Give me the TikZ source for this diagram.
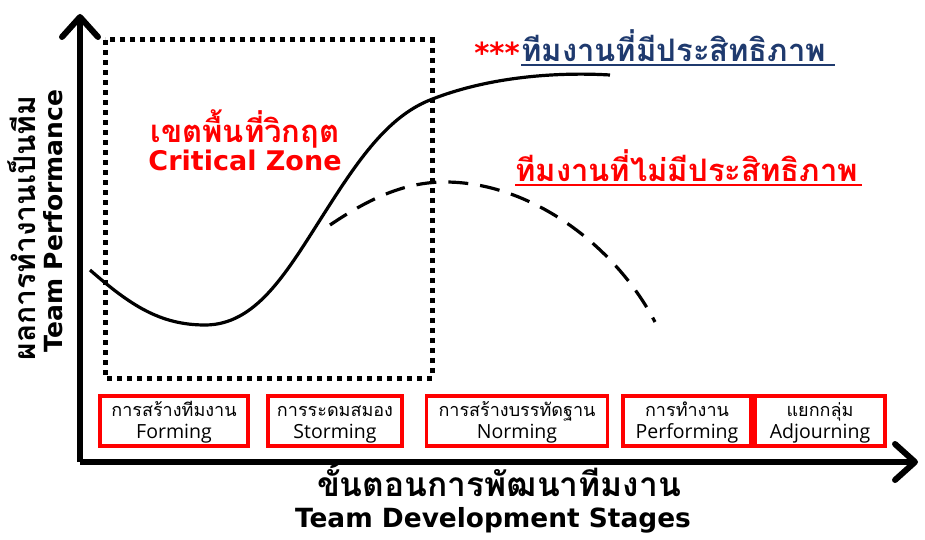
\documentclass[tikz,border=0pt]{standalone}
\usepackage{fontspec}
\setmainfont{Open Sans}
\newfontfamily\thai[Script=Thai]{Loma}
\newfontfamily\heavy{DejaVu Sans}
\usetikzlibrary{arrows.meta}
\definecolor{navy}{HTML}{1F3A6E}
\tikzset{
  stagebox/.style={draw=red, line width=3.2pt, fill=white, minimum height=50pt, inner sep=0pt},
  thaibox/.style={anchor=base, inner sep=0pt, font=\thai\fontsize{18}{20}\selectfont},
  latinbox/.style={anchor=base, inner sep=0pt, font=\fontsize{19.5}{21}\selectfont},
  axisline/.style={line width=6pt, -{Straight Barb[length=20pt,width=36pt,line width=6pt,round]}},
  curvesolid/.style={line width=3.2pt},
  curvedash/.style={line width=3.2pt, dash pattern=on 20pt off 12pt},
}
\begin{document}
\begin{tikzpicture}[x=1pt,y=-1pt]
\useasboundingbox (0,0) rectangle (925,540);
% dotted critical zone
\draw[line width=5pt, dash pattern=on 5pt off 5pt] (105,40) rectangle (432,378);
% axes
\coordinate (O) at (80,462);
\coordinate (ytop) at (80,14);
\coordinate (xend) at (918,462);
\draw[axisline] (O) -- (ytop);
\draw[axisline] (O) -- (xend);
% curves
\draw[curvesolid] (90,270) .. controls (130,305) and (160,325) .. (205,325)
  .. controls (255,325) and (285,275) .. (320,220)
  .. controls (355,165) and (385,118) .. (430,100)
  .. controls (490,76) and (560,72) .. (610,75);
\draw[curvedash] (330,225) .. controls (370,198) and (405,182) .. (445,182)
  .. controls (530,182) and (615,245) .. (655,322);
% stage boxes
\node[stagebox, minimum width=148pt] (forming) at (174,421) {};
\node[thaibox] (formingth) at (174,416) {การสร้างทีมงาน};
\node[latinbox] (formingen) at (174,438) {Forming};
\node[stagebox, minimum width=134pt] (storming) at (335,421) {};
\node[thaibox] (stormingth) at (335,416) {การระดมสมอง};
\node[latinbox] (stormingen) at (335,438) {Storming};
\node[stagebox, minimum width=181pt] (norming) at (517,421) {};
\node[thaibox] (normingth) at (517,416) {การสร้างบรรทัดฐาน};
\node[latinbox] (normingen) at (517,438) {Norming};
\node[stagebox, minimum width=128pt] (performing) at (687,421) {};
\node[thaibox] (performingth) at (687,416) {การทำงาน};
\node[latinbox] (performingen) at (687,438) {Performing};
\node[stagebox, minimum width=130pt] (adjourning) at (820,421) {};
\node[thaibox] (adjourningth) at (820,416) {แยกกลุ่ม};
\node[latinbox] (adjourningen) at (820,438) {Adjourning};
% critical zone text
\node[anchor=base, inner sep=0pt, text=red, font=\thai\fontsize{31}{33}\selectfont\bfseries] (zoneth) at (245,143) {เขตพื้นที่วิกฤต};
\node[anchor=base, inner sep=0pt, text=red, font=\heavy\fontsize{27}{29}\selectfont\bfseries] (zoneen) at (245,171) {Critical Zone};
% effective team
\node[anchor=base east, inner sep=0pt, text=red, font=\heavy\fontsize{29}{30}\selectfont\bfseries] (stars) at (520,64) {***};
\node[anchor=base west, inner sep=0pt, text=navy, font=\thai\fontsize{31}{33}\selectfont\bfseries] (eff) at (521,62) {ทีมงานที่มีประสิทธิภาพ};
\draw[navy, line width=2pt] (eff.base west) ++(0,3) -- ++(314,0);
% ineffective team
\node[anchor=base west, inner sep=0pt, text=red, font=\thai\fontsize{31}{33}\selectfont\bfseries] (ineff) at (515,181) {ทีมงานที่ไม่มีประสิทธิภาพ};
\draw[red, line width=2pt] (ineff.base west) ++(0,3.5) -- ++(347,0);
% y label
\node[rotate=90, anchor=base, inner sep=0pt, font=\thai\fontsize{30}{32}\selectfont\bfseries] (ylabelth) at (35,228) {ผลการทำงานเป็นทีม};
\node[rotate=90, anchor=base, inner sep=0pt, font=\heavy\fontsize{25}{27}\selectfont\bfseries] (ylabelen) at (62,221) {Team Performance};
% x label
\node[anchor=base, inner sep=0pt, font=\thai\fontsize{33.5}{35}\selectfont\bfseries] (xlabelth) at (499,496) {ขั้นตอนการพัฒนาทีมงาน};
\node[anchor=base, inner sep=0pt, font=\heavy\fontsize{26.4}{29}\selectfont\bfseries] (xlabelen) at (493,527) {Team Development Stages};
\end{tikzpicture}
\end{document}
